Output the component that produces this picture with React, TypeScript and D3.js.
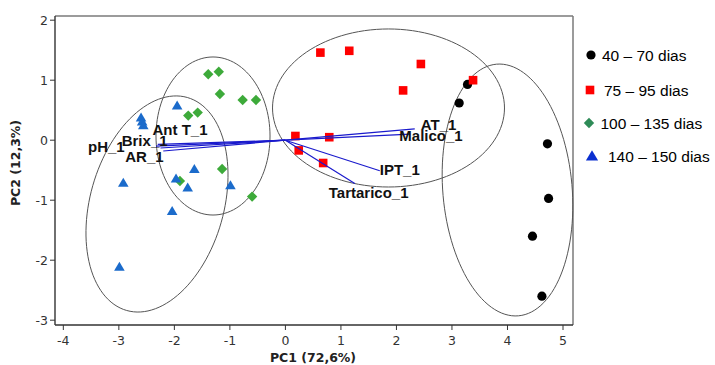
import React from "react";
import * as d3 from "d3";

// ---- data ----
const groups = ["40 – 70 dias", "75 – 95 dias", "100 – 135 dias", "140 – 150 dias"];

const g1PC1 = [3.28, 3.13, 4.72, 4.74, 4.45, 4.62];
const g1PC2 = [0.93, 0.62, -0.06, -0.97, -1.6, -2.6];

const g2PC1 = [0.63, 1.15, 2.44, 3.38, 2.12, 0.18, 0.79, 0.24, 0.68];
const g2PC2 = [1.46, 1.49, 1.27, 1.0, 0.83, 0.07, 0.05, -0.17, -0.38];

const g3PC1 = [-1.39, -1.2, -1.18, -0.77, -0.53, -1.75, -1.58, -1.14, -1.9, -0.6];
const g3PC2 = [1.1, 1.14, 0.77, 0.67, 0.67, 0.41, 0.46, -0.48, -0.68, -0.94];

const g4PC1 = [-1.95, -2.6, -2.58, -2.56, -1.64, -2.92, -1.97, -1.76, -0.99, -2.04, -2.99];
const g4PC2 = [0.58, 0.38, 0.31, 0.25, -0.48, -0.71, -0.64, -0.79, -0.75, -1.18, -2.11];

const loadingNames = ["pH_1", "Brix_1", "AR_1", "Ant T_1", "AT_1", "Malico_1", "IPT_1", "Tartarico_1"];
const loadingPC1 = [-2.33, -2.3, -2.2, -2.25, 2.33, 2.25, 1.7, 1.25];
const loadingPC2 = [-0.1, -0.07, -0.18, -0.13, 0.19, 0.1, -0.51, -0.72];

// confidence ellipses: center and two semi-axis vectors (data units)
const ellipseCX = [4.0, 1.857, -1.304, -2.313];
const ellipseCY = [-0.83, 0.537, 0.07, -1.063];
const ellipseUX = [-0.198, 0, 0, 0.546];
const ellipseUY = [2.097, 1.317, 1.317, 1.775];
const ellipseVX = [1.16, 2.089, 1.027, 1.157];
const ellipseVY = [0.094, 0, 0, -0.305];

const xTicks = [-4, -3, -2, -1, 0, 1, 2, 3, 4, 5];
const yTicks = [-3, -2, -1, 0, 1, 2];

// ---- layout ----
const W = 715, H = 365;
const L = 55, R = 573, T = 16, B = 325;
const x = d3.scaleLinear().domain([-4.15, 5.18]).range([L, R]);
const y = d3.scaleLinear().domain([-3.08, 2.07]).range([B, T]);

const labelOffsets: Record<string, [number, number]> = {
  "pH_1": [-68, 6],
  "Brix_1": [-36, 2],
  "AR_1": [-38, 11],
  "Ant T_1": [-8, -13],
  "AT_1": [6, 1],
  "Malico_1": [-11, 7],
  "IPT_1": [0, 4],
  "Tartarico_1": [-26, 15],
};

const COLORS = ["#000000", "#ff0000", "#3daa3a", "#1b6bcb"];
const LEGEND_COLORS = ["#000000", "#ff0000", "#2e8b57", "#0a2fd0"];

function Marker({ kind, cx, cy, color, s = 1 }: { kind: number; cx: number; cy: number; color: string; s?: number }) {
  if (kind === 0) return <circle cx={cx} cy={cy} r={4.6 * s} fill={color} />;
  if (kind === 1) return <rect x={cx - 4.3 * s} y={cy - 4.3 * s} width={8.6 * s} height={8.6 * s} fill={color} />;
  if (kind === 2) {
    const d = 5.2 * s;
    return <path d={`M${cx},${cy - d}L${cx + d},${cy}L${cx},${cy + d}L${cx - d},${cy}Z`} fill={color} />;
  }
  const h = 5 * s;
  return <path d={`M${cx},${cy - h}L${cx + 5.3 * s},${cy + h * 0.8}L${cx - 5.3 * s},${cy + h * 0.8}Z`} fill={color} />;
}

export default function App() {
  const series = [
    [g1PC1, g1PC2],
    [g2PC1, g2PC2],
    [g3PC1, g3PC2],
    [g4PC1, g4PC2],
  ];
  const ellipsePath = (i: number) => {
    const pts: [number, number][] = d3.range(0, 361, 3).map((deg) => {
      const t = (deg * Math.PI) / 180;
      const px = ellipseCX[i] + ellipseUX[i] * Math.cos(t) + ellipseVX[i] * Math.sin(t);
      const py = ellipseCY[i] + ellipseUY[i] * Math.cos(t) + ellipseVY[i] * Math.sin(t);
      return [x(px), y(py)];
    });
    return d3.line()(pts) + "Z";
  };
  const tickFont = "'DejaVu Sans', Verdana, sans-serif";
  const boldArial = "'Liberation Sans', Arial, sans-serif";
  return (
    <svg width={W} height={H} style={{ position: "absolute", left: 0, top: 0, background: "#fff" }}>
      {/* frame */}
      <line x1={L} y1={T} x2={R} y2={T} stroke="#7a7a7a" strokeWidth={1.5} />
      <line x1={R} y1={T} x2={R} y2={B} stroke="#7a7a7a" strokeWidth={1.5} />
      <line x1={L} y1={T} x2={L} y2={B} stroke="#333" strokeWidth={1.4} />
      <line x1={L} y1={B} x2={R} y2={B} stroke="#333" strokeWidth={1.4} />
      {/* ticks */}
      {yTicks.map((t) => (
        <g key={"y" + t}>
          <line x1={L - 5} x2={L} y1={y(t)} y2={y(t)} stroke="#333" strokeWidth={1} />
          <text x={L - 7} y={y(t) + 4.5} textAnchor="end" fontFamily={tickFont} fontSize={12.5} fill="#333">
            {t}
          </text>
        </g>
      ))}
      {xTicks.map((t) => (
        <g key={"x" + t}>
          <line x1={x(t)} x2={x(t)} y1={B} y2={B + 5} stroke="#333" strokeWidth={1} />
          <text x={x(t)} y={B + 20} textAnchor="middle" fontFamily={tickFont} fontSize={12.5} fill="#333">
            {t}
          </text>
        </g>
      ))}
      <text x={313} y={362} textAnchor="middle" fontFamily={tickFont} fontWeight="bold" fontSize={12.5} fill="#222">
        PC1 (72,6%)
      </text>
      <text
        transform={`translate(20,163) rotate(-90)`}
        textAnchor="middle"
        fontFamily={tickFont}
        fontWeight="bold"
        fontSize={12.5}
        fill="#222"
      >
        PC2 (12,3%)
      </text>
      {/* ellipses */}
      {ellipseCX.map((_, i) => (
        <path key={"e" + i} d={ellipsePath(i)} fill="none" stroke="#555" strokeWidth={1} />
      ))}
      {/* points */}
      {series.map(([xs, ys], gi) =>
        xs.map((v, j) => <Marker key={gi + "-" + j} kind={gi} cx={x(v)} cy={y(ys[j])} color={COLORS[gi]} />)
      )}
      {/* loadings */}
      {loadingNames.map((n, i) => (
        <line
          key={"l" + n}
          x1={x(0)}
          y1={y(0)}
          x2={x(loadingPC1[i])}
          y2={y(loadingPC2[i])}
          stroke="#1a1acc"
          strokeWidth={1.2}
        />
      ))}
      {loadingNames.map((n, i) => (
        <text
          key={"t" + n}
          x={x(loadingPC1[i]) + labelOffsets[n][0]}
          y={y(loadingPC2[i]) + labelOffsets[n][1]}
          fontFamily={boldArial}
          fontWeight="bold"
          fontSize={15}
          fill="#111"
        >
          {n}
        </text>
      ))}
      {/* legend */}
      {groups.map((g, i) => {
        const cy = [55, 90, 123, 156][i];
        const mx = [591, 590, 589, 592][i];
        const tx = [602, 604, 600.5, 608][i];
        return (
          <g key={"lg" + i}>
            <Marker kind={i} cx={mx} cy={cy} color={LEGEND_COLORS[i]} s={i === 3 ? 1.15 : 1} />
            <text x={tx} y={cy + 5.5} fontFamily={boldArial} fontSize={15.5} fill="#000">
              {g}
            </text>
          </g>
        );
      })}
    </svg>
  );
}
